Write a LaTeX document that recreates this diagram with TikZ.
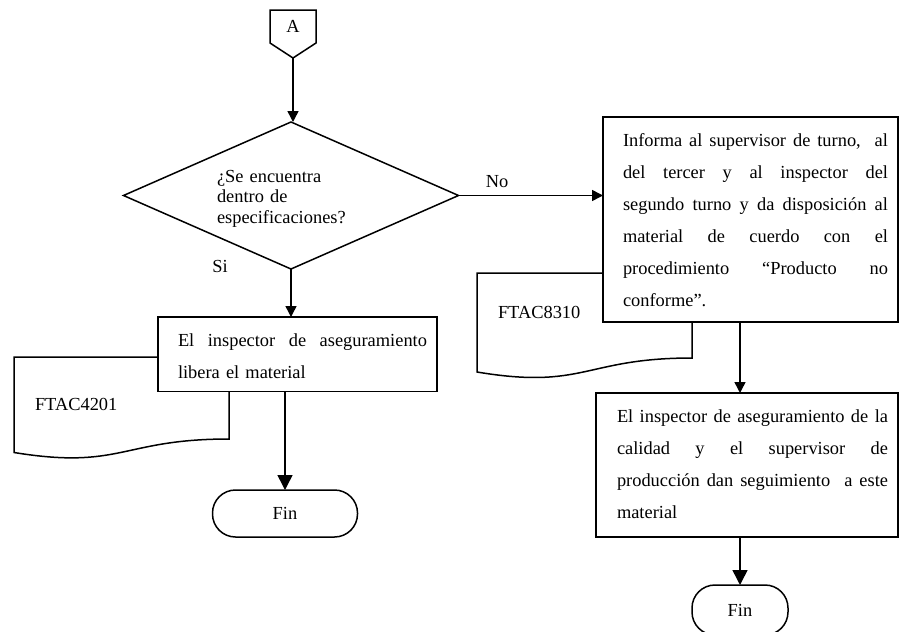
\documentclass[tikz,border=0pt]{standalone}
\usepackage{fontspec}
\setmainfont{Liberation Serif}
\usetikzlibrary{arrows.meta,shapes.geometric}
% a justified line: interword spaces grow to fill the given width
\newcommand\fillline[2]{\leavevmode{\spaceskip=0.25em plus 1fil\relax\hbox to #1{#2}}}

\begin{document}
\begin{tikzpicture}[x=1pt,y=-1pt,line width=1.5pt,
  every node/.style={inner sep=0pt, outer sep=0pt},
  txt/.style={font=\fontsize{18.4}{18.4}\selectfont},
  proc/.style={draw, fill=white, rectangle, anchor=north west},
  para/.style={anchor=north west, align=left, text height=13pt,
               font=\fontsize{18.4}{32}\selectfont},
  term/.style={draw, fill=white, rectangle, rounded corners=23pt,
               minimum height=47pt, font=\fontsize{18.4}{18.4}\selectfont},
  flow/.style={-{Triangle[width=11pt,length=11pt]}},
  flowbig/.style={-{Triangle[width=15pt,length=15pt]}},
  docshape/.style={draw, fill=white, line join=miter}
]
\useasboundingbox (0,0) rectangle (900,632);

% off-page connector
\draw[line join=miter] (270,10) -- (316,10) -- (316,43) -- (293,58) -- (270,43) -- cycle;
\coordinate (Atip) at (293,58);
\node[txt] (Alabel) at (293,26) {A};

% decision
\node[draw, diamond, minimum width=335pt, minimum height=147pt] (dec) at (291,195.5) {};
\node[para, text width=170pt, font=\fontsize{18.4}{20.7}\selectfont] (dectext) at (217,169)
  {¿Se encuentra\\dentro de\\especificaciones?};
\node[txt] (si) at (220,266) {Si};
\node[txt] (no) at (497,182) {No};

% documents (partly covered by the process boxes)
\draw[docshape] (14,357) -- (229,357) -- (229,439)
  .. controls (121.5,439) and (121.5,470) .. (14,452.5) -- cycle;
\node[txt, anchor=west] (doc1) at (35,404) {FTAC4201};
\draw[docshape] (477,273) -- (692,273) -- (692,358)
  .. controls (584.5,358) and (584.5,390) .. (477,372) -- cycle;
\node[txt, anchor=west] (doc2) at (498,312) {FTAC8310};

% process boxes
\node[proc, minimum width=279pt, minimum height=74.5pt] (b1) at (158,317) {};
\node[para, text width=249pt] (t1) at (178,333)
  {\fillline{249pt}{El inspector de aseguramiento}\\libera el material};

\node[proc, minimum width=295pt, minimum height=205pt] (b2) at (603,117) {};
\node[para, text width=265pt] (t2) at (623,133.5)
  {\fillline{265pt}{Informa al supervisor de turno,\ \ al}\\
   \fillline{265pt}{del tercer y al inspector del}\\
   \fillline{265pt}{segundo turno y da disposición al}\\
   \fillline{265pt}{material de cuerdo con el}\\
   \fillline{265pt}{procedimiento “Producto no}\\
   conforme”.};

\node[proc, minimum width=302pt, minimum height=144pt] (b3) at (596,393) {};
\node[para, text width=271pt] (t3) at (617,409)
  {\fillline{271pt}{El inspector de aseguramiento de la}\\
   \fillline{271pt}{calidad y el supervisor de}\\
   \fillline{271pt}{producción dan seguimiento\ \ a este}\\
   material};

% terminators
\node[term, minimum width=145pt] (f1) at (285,513.5) {Fin};
\node[term, minimum width=96pt, minimum height=50pt] (f2) at (740,610) {Fin};

% connectors
\draw[flow] (Atip) -- (Atip |- dec.north);
\draw[flow] (dec.east) -- (dec.east -| b2.west);
\draw[flow] (dec.south) -- (dec.south |- b1.north);
\draw[flowbig] (b1.south -| f1.north) -- (f1.north);
\draw[flow] (b2.south -| f2.north) -- (b3.north -| f2.north);
\draw[flowbig] (b3.south -| f2.north) -- (f2.north);
\end{tikzpicture}
\end{document}
